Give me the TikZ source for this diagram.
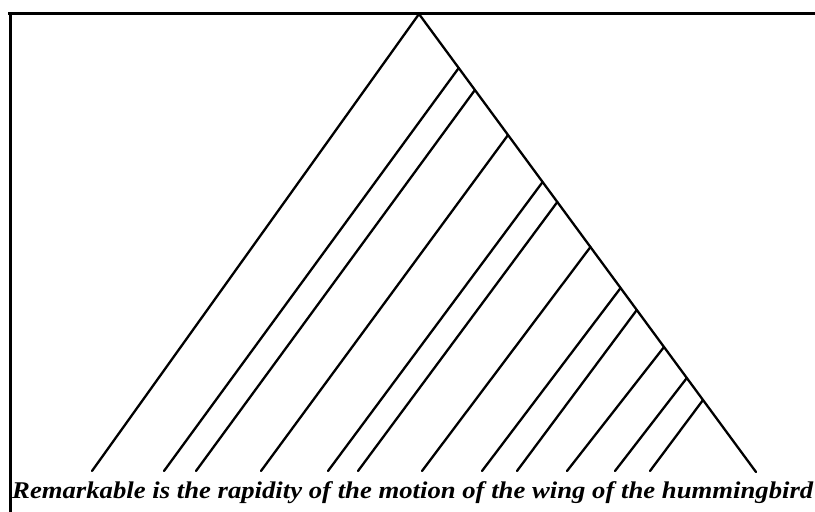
\documentclass[tikz,border=0pt]{standalone}
\usepackage{fontspec}
\setmainfont{Liberation Serif}
\begin{document}
\begin{tikzpicture}[x=1pt,y=-1pt,
  frame/.style={line width=3pt},
  limb/.style={line width=2.3pt, line cap=round, line join=round}]
\useasboundingbox (0,0) rectangle (815,512);
\draw[frame] (8,13) -- (815,13);
\draw[frame] (10,12) -- (10,512);
\coordinate (apex) at (419,14);
\coordinate (lf) at (92,471);
\coordinate (rf) at (756,472);
\draw[limb] (lf) -- (apex) -- (rf);
\foreach \i/\y/\fx in {1/68/164, 2/90/196, 3/135/261, 4/182/328, 5/202/358,
  6/247/422, 7/288/482, 8/310/517, 9/347/567, 10/378/615, 11/400/650}{
  \coordinate (b\i) at ({419+337/458*(\y-14)},\y);
  \coordinate (f\i) at (\fx,471);
  \draw[limb] (b\i) -- (f\i);
}
\node[anchor=base west, inner sep=0pt] (cap) at (12,498)
  {\resizebox{801pt}{\height}{\fontsize{24}{24}\selectfont\bfseries\itshape Remarkable is the rapidity of the motion of the wing of the hummingbird}};
\end{tikzpicture}
\end{document}
